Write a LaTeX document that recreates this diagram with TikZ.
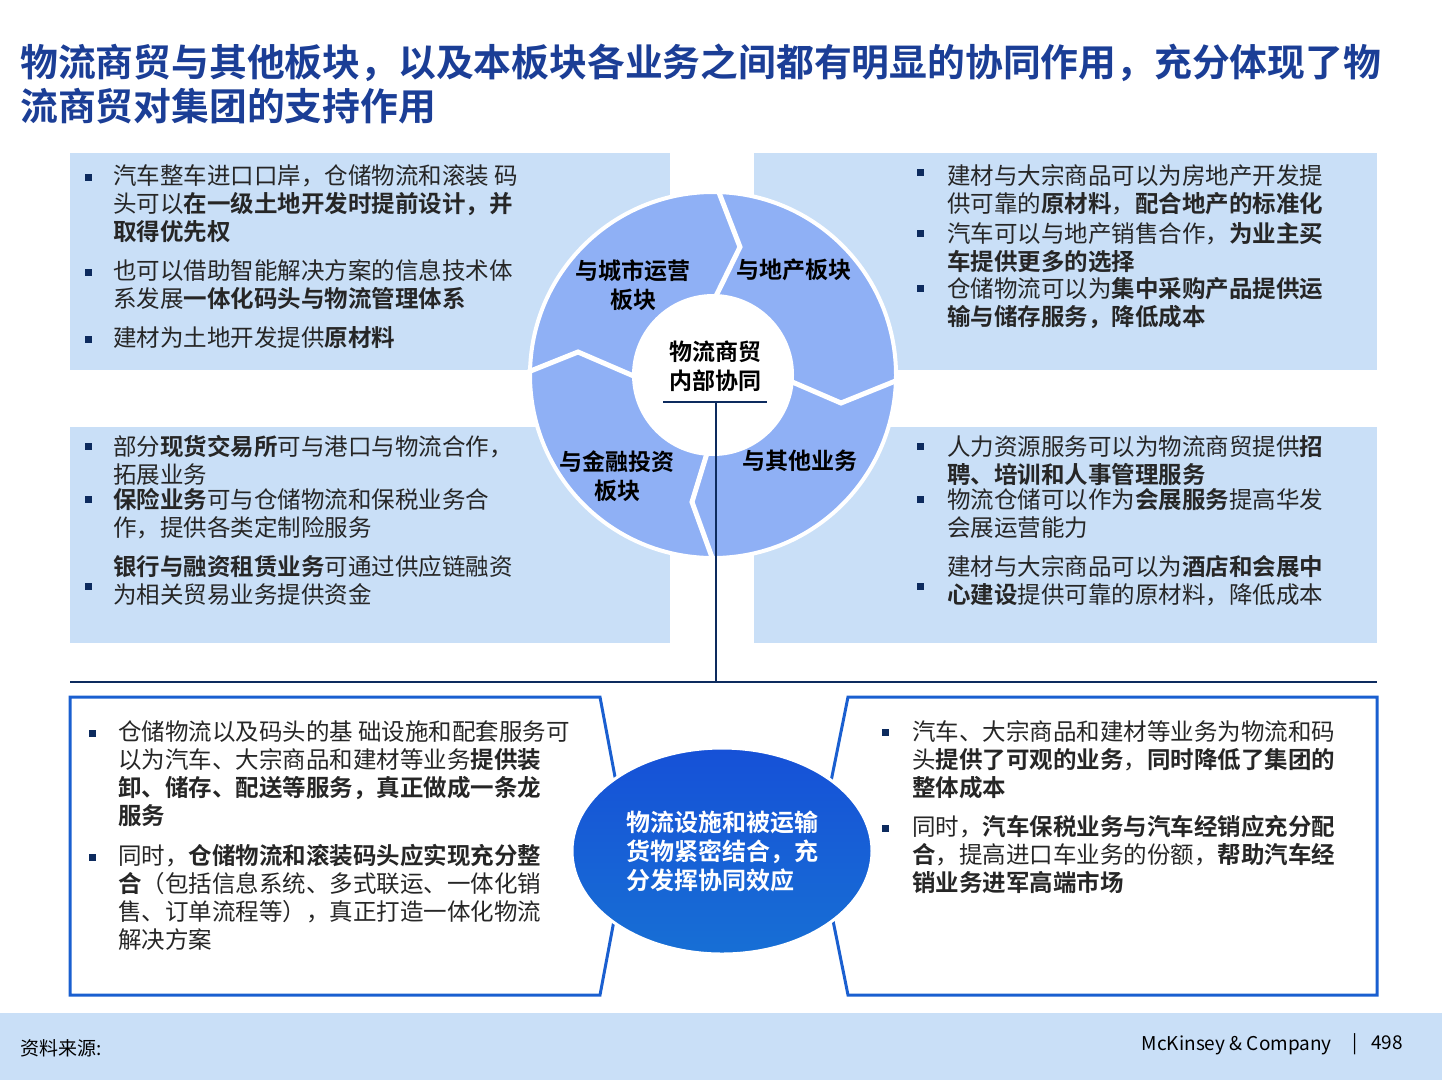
\documentclass[tikz,border=0pt]{standalone}
\usepackage{fontspec}
\setmainfont{Noto Sans CJK SC}[BoldFont={Noto Sans CJK SC Bold}]
\usetikzlibrary{shapes.geometric}
\definecolor{ttlblue}{HTML}{1B3E96}
\definecolor{boxblue}{HTML}{C9DFF7}
\definecolor{ringblue}{HTML}{8FB0F5}
\definecolor{navy}{HTML}{0D2B5E}
\definecolor{frameblue}{HTML}{1A5FD0}
\tikzset{
  panel/.style={fill=boxblue, draw=none},
  bul/.style={fill=navy, minimum size=7pt, inner sep=0, rectangle},
  item/.style={anchor=north west, inner sep=0, align=left, font=\fontsize{23.5}{28}\selectfont, text=black!85},
  seg/.style={font=\bfseries\fontsize{23}{29}\selectfont, align=center, text=black},
  divider/.style={white, line width=5pt, line join=miter},
  frame/.style={draw=frameblue, line width=3pt},
  hub/.style={navy, line width=2.5pt}
}
\begin{document}
\begin{tikzpicture}[x=1pt,y=-1pt]
  \useasboundingbox (0,0) rectangle (1442,1080);
  % title
  \node[anchor=north west, inner sep=0, align=left, text=ttlblue, font=\bfseries\fontsize{37.8}{44}\selectfont] (title) at (20,44)
    {物流商贸与其他板块，以及本板块各业务之间都有明显的协同作用，充分体现了物\\流商贸对集团的支持作用};

  % four panels
  \fill[panel] (70,153) rectangle (670,370);
  \fill[panel] (754,153) rectangle (1377,370);
  \fill[panel] (70,427) rectangle (670,643);
  \fill[panel] (754,427) rectangle (1377,643);

  % top left
  \node[bul] at (88,177) {}; \node[item] (tl1) at (113,164) {汽车整车进口口岸，仓储物流和滚装 码\\头可以\textbf{在一级土地开发时提前设计，并}\\\textbf{取得优先权}};
  \node[bul] at (88,272) {}; \node[item] (tl2) at (113,259) {也可以借助智能解决方案的信息技术体\\系发展\textbf{一体化码头与物流管理体系}};
  \node[bul] at (88,339) {}; \node[item] (tl3) at (113,326) {建材为土地开发提供\textbf{原材料}};
  % top right
  \node[bul] at (920,172) {}; \node[item] (tr1) at (947,164) {建材与大宗商品可以为房地产开发提\\供可靠的\textbf{原材料}，\textbf{配合地产的标准化}};
  \node[bul] at (920,233) {}; \node[item] (tr2) at (947,222) {汽车可以与地产销售合作，\textbf{为业主买}\\\textbf{车提供更多的选择}};
  \node[bul] at (920,288) {}; \node[item] (tr3) at (947,277) {仓储物流可以为\textbf{集中采购产品提供运}\\\textbf{输与储存服务，降低成本}};
  % middle left
  \node[bul] at (88,446) {}; \node[item] (ml1) at (113,435) {部分\textbf{现货交易所}可与港口与物流合作，\\拓展业务};
  \node[bul] at (88,499) {}; \node[item] (ml2) at (113,488) {\textbf{保险业务}可与仓储物流和保税业务合\\作，提供各类定制险服务};
  \node[bul] at (88,586) {}; \node[item] (ml3) at (113,555) {\textbf{银行与融资租赁业务}可通过供应链融资\\为相关贸易业务提供资金};
  % middle right
  \node[bul] at (920,446) {}; \node[item] (mr1) at (947,435) {人力资源服务可以为物流商贸提供\textbf{招}\\\textbf{聘、培训和人事管理服务}};
  \node[bul] at (920,499) {}; \node[item] (mr2) at (947,488) {物流仓储可以作为\textbf{会展服务}提高华发\\会展运营能力};
  \node[bul] at (920,586) {}; \node[item] (mr3) at (947,555) {建材与大宗商品可以为\textbf{酒店和会展中}\\\textbf{心建设}提供可靠的原材料，降低成本};

  % ring
  \coordinate (c) at (713,375);
  \fill[ringblue, draw=white, line width=4pt] (c) circle (183);
  \draw[divider] (718,190) -- (740,247) -- (715,298);
  \draw[divider] (528,372) -- (578,352) -- (636,377);
  \draw[divider] (898,380) -- (841,403) -- (790,381);
  \draw[divider] (713,560) -- (692,502) -- (708,450);
  \fill[white] (c) circle (81);
  \node[seg] (city) at (633,285) {与城市运营\\板块};
  \node[seg] (land) at (794,270) {与地产板块};
  \node[seg] (fin) at (617,476) {与金融投资\\板块};
  \node[seg] (other) at (800,461) {与其他业务};
  \node[seg] (core) at (715,366) {物流商贸\\内部协同};

  % hub line
  \coordinate (hl) at (663,402);
  \coordinate (hr) at (767,402);
  \coordinate (ht) at (716,402);
  \coordinate (hb) at (716,682);
  \coordinate (bl) at (70,682);
  \coordinate (br) at (1377,682);
  \draw[hub] (hl) -- (hr);
  \draw[hub] (ht) -- (hb);
  \draw[hub] (bl) -- (br);

  % bottom frames
  \draw[frame] (70,697) -- (600,697) -- (628,846) -- (600,995) -- (70,995) -- cycle;
  \draw[frame] (1377,697) -- (848,697) -- (818,846) -- (848,995) -- (1377,995) -- cycle;
  \node[bul] at (92,733) {}; \node[item] (bl1) at (118,720) {仓储物流以及码头的基 础设施和配套服务可\\以为汽车、大宗商品和建材等业务\textbf{提供装}\\\textbf{卸、储存、配送等服务，真正做成一条龙}\\\textbf{服务}};
  \node[bul] at (92,857) {}; \node[item] (bl2) at (118,844) {同时，\textbf{仓储物流和滚装码头应实现充分整}\\\textbf{合}（包括信息系统、多式联运、一体化销\\售、订单流程等），真正打造一体化物流\\解决方案};
  \node[bul] at (885,732) {}; \node[item] (br1) at (912,720) {汽车、大宗商品和建材等业务为物流和码\\头\textbf{提供了可观的业务}，\textbf{同时降低了集团的}\\\textbf{整体成本}};
  \node[bul] at (885,828) {}; \node[item] (br2) at (912,815) {同时，\textbf{汽车保税业务与汽车经销应充分配}\\\textbf{合}，提高进口车业务的份额，\textbf{帮助汽车经}\\\textbf{销业务进军高端市场}};

  % synergy ellipse
  \node[ellipse, minimum width=300pt, minimum height=206pt, draw=white, line width=3pt,
        top color=frameblue!85!blue, bottom color=frameblue!90!cyan, text=white,
        font=\bfseries\fontsize{24}{29}\selectfont, align=left] (syn) at (722,851)
    {物流设施和被运输\\货物紧密结合，充\\分发挥协同效应};

  % footer
  \fill[boxblue] (0,1013) rectangle (1442,1080);
  \node[anchor=west, inner sep=0, font=\fontsize{19}{22}\selectfont] (src) at (20,1048) {资料来源:};
  \node[anchor=east, inner sep=0, font=\fontsize{19}{22}\selectfont] (mck) at (1332,1045) {McKinsey \& Company};
  \node[anchor=west, inner sep=0, font=\fontsize{19}{22}\selectfont] (pg) at (1352,1044) {|\hspace{14pt}498};
\end{tikzpicture}
\end{document}
